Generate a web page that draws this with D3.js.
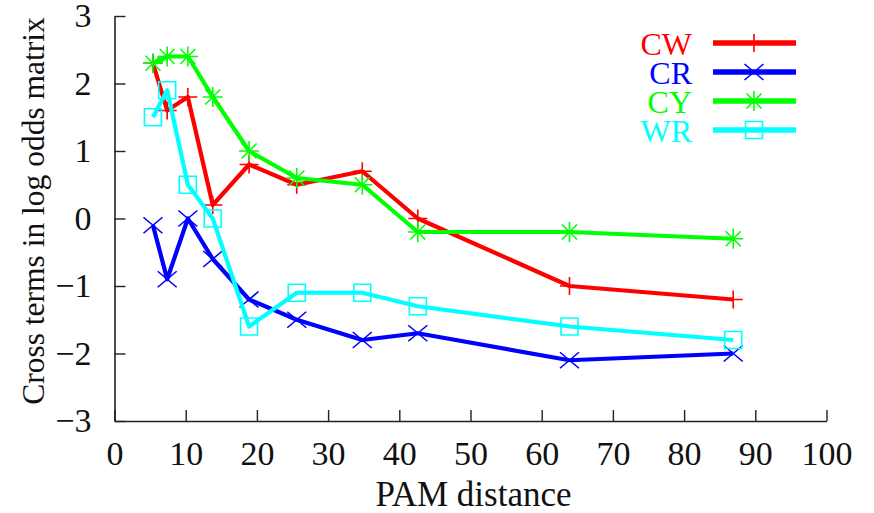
<!DOCTYPE html>
<html>
<head>
<meta charset="utf-8">
<script src="https://cdn.jsdelivr.net/npm/d3@7"></script>
<style>
  html, body { margin: 0; padding: 0; background: #fff; }
  svg { display: block; }
  text { font-family: "Liberation Serif", "DejaVu Serif", serif; }
</style>
</head>
<body>
<svg id="chart" width="874" height="513"></svg>
<script>
// PAM distances at which the log odds matrices were evaluated
const pam = [5.4, 7.4, 10.3, 13.8, 18.9, 25.6, 34.8, 42.6, 63.9, 86.9];

// Cross terms for each residue pair
const cw = [2.3, 1.6, 1.8, 0.2, 0.8, 0.5, 0.7, 0.0, -1.0, -1.2];
const cr = [-0.1, -0.9, 0.0, -0.6, -1.2, -1.5, -1.8, -1.7, -2.1, -2.0];
const cy = [2.3, 2.4, 2.4, 1.8, 1.0, 0.6, 0.5, -0.2, -0.2, -0.3];
const wr = [1.5, 1.9, 0.5, 0.0, -1.6, -1.1, -1.1, -1.3, -1.6, -1.8];

const seriesNames = ["CW", "CR", "CY", "WR"];
const seriesColors = ["#ff0000", "#0000ff", "#00ff00", "#00ffff"];
const seriesMarkers = ["plus", "cross", "star", "square"];

const xTicks = [0, 10, 20, 30, 40, 50, 60, 70, 80, 90, 100];
const yTicks = [-3, -2, -1, 0, 1, 2, 3];

const series = [cw, cr, cy, wr].map((vals, i) => ({
  name: seriesNames[i],
  color: seriesColors[i],
  marker: seriesMarkers[i],
  points: vals.map((v, j) => ({ x: pam[j], y: v }))
}));

const svg = d3.select("#chart");
const x = d3.scaleLinear().domain([0, 100]).range([114.5, 826.5]);
const y = d3.scaleLinear().domain([-3, 3]).range([421, 16]);

// Axes: ticks point into the plot area
const fmt = d => (d < 0 ? "\u2212" + Math.abs(d) : String(d));

const xAxis = svg.append("g")
  .attr("transform", `translate(0,${y(-3)})`)
  .call(d3.axisBottom(x).tickValues(xTicks).tickSizeInner(-11).tickSizeOuter(0).tickPadding(20).tickFormat(fmt));

const yAxis = svg.append("g")
  .attr("transform", `translate(${x(0)},0)`)
  .call(d3.axisLeft(y).tickValues(yTicks).tickSizeInner(-11).tickSizeOuter(0).tickPadding(23).tickFormat(fmt));

[xAxis, yAxis].forEach(g => {
  g.select(".domain").attr("stroke", "#222").attr("stroke-width", 1.6);
  g.selectAll(".tick line").attr("stroke", "#222").attr("stroke-width", 1.4);
  g.selectAll(".tick text")
    .attr("fill", "#111")
    .style("font-size", "34px")
    .style("font-family", "'Liberation Serif', serif");
});

// Axis titles
svg.append("text")
  .attr("x", (x(0) + x(100)) / 2 + 3)
  .attr("y", 506)
  .attr("text-anchor", "middle")
  .attr("fill", "#111")
  .style("font-size", "35px")
  .text("PAM distance");

svg.append("text")
  .attr("transform", `translate(44,211) rotate(-90)`)
  .attr("text-anchor", "middle")
  .attr("fill", "#111")
  .style("font-size", "31.5px")
  .text("Cross terms in log odds matrix");

// Marker glyph paths, centred on the origin
function markerPath(type) {
  const p = d3.path();
  if (type === "plus") {
    p.moveTo(-9.5, 0); p.lineTo(9.5, 0);
    p.moveTo(0, -9); p.lineTo(0, 9);
  } else if (type === "cross") {
    p.moveTo(-9.5, -8); p.lineTo(9.5, 8);
    p.moveTo(-9.5, 8); p.lineTo(9.5, -8);
  } else if (type === "star") {
    p.moveTo(-10, 0); p.lineTo(10, 0);
    p.moveTo(0, -10); p.lineTo(0, 10);
    p.moveTo(-7.5, -7.5); p.lineTo(7.5, 7.5);
    p.moveTo(-7.5, 7.5); p.lineTo(7.5, -7.5);
  } else {
    p.rect(-8.5, -8.5, 17, 17);
  }
  return p.toString();
}

const line = d3.line().x(d => x(d.x)).y(d => y(d.y));

const plot = svg.append("g");
series.forEach(s => {
  const g = plot.append("g");
  g.append("path")
    .datum(s.points)
    .attr("d", line)
    .attr("fill", "none")
    .attr("stroke", s.color)
    .attr("stroke-width", 4.2)
    .attr("stroke-linejoin", "round");
  g.selectAll("path.mk")
    .data(s.points)
    .join("path")
    .attr("class", "mk")
    .attr("transform", d => `translate(${x(d.x)},${y(d.y)})`)
    .attr("d", markerPath(s.marker))
    .attr("fill", "none")
    .attr("stroke", s.color)
    .attr("stroke-width", 1.6);
});

// Legend
const legend = svg.append("g");
const legendY = [43, 72, 101, 130];
series.forEach((s, i) => {
  const ly = legendY[i];
  legend.append("text")
    .attr("x", 692)
    .attr("y", ly)
    .attr("dy", "0.36em")
    .attr("text-anchor", "end")
    .attr("fill", s.color)
    .style("font-size", "32px")
    .text(s.name);
  legend.append("line")
    .attr("x1", 713).attr("x2", 796)
    .attr("y1", ly).attr("y2", ly)
    .attr("stroke", s.color)
    .attr("stroke-width", 5.5);
  legend.append("path")
    .attr("transform", `translate(754,${ly})`)
    .attr("d", markerPath(s.marker))
    .attr("fill", "none")
    .attr("stroke", s.color)
    .attr("stroke-width", 1.6);
});
</script>
</body>
</html>
